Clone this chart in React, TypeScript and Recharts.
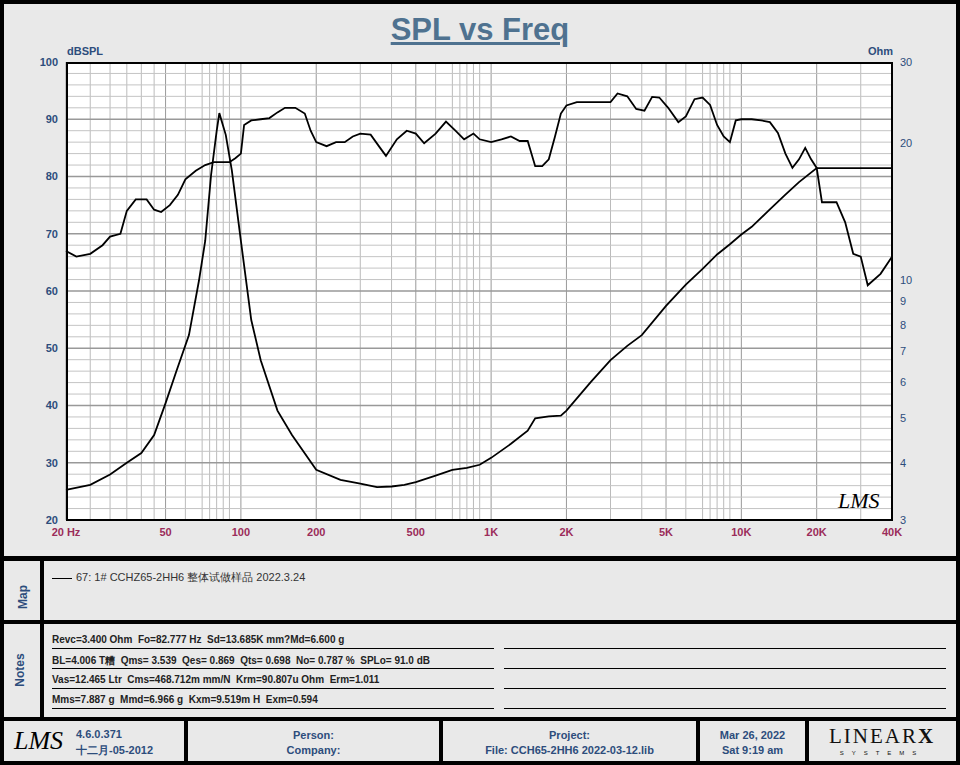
import { LineChart, Line, XAxis, YAxis, ReferenceLine } from 'recharts';

const splFreq = [20, 22, 25, 28, 30, 33, 35, 38, 42, 45, 48, 52, 56, 60, 66, 72, 78, 85, 90, 95, 100, 103, 110, 120, 130, 140, 150, 165, 180, 190, 200, 220, 240, 260, 280, 300, 330, 360, 380, 420, 460, 500, 540, 600, 660, 720, 780, 850, 900, 1000, 1100, 1200, 1300, 1400, 1500, 1600, 1700, 1800, 1900, 2000, 2200, 2500, 3000, 3200, 3500, 3800, 4100, 4400, 4700, 5100, 5600, 6000, 6500, 7000, 7500, 8000, 8500, 9000, 9500, 10000, 11000, 12000, 13000, 14000, 15000, 16000, 17000, 18000, 19000, 20000, 21000, 22000, 24000, 26000, 28000, 30000, 32000, 36000, 40000];
const splDb = [67, 66, 66.5, 68, 69.5, 70, 74, 76, 76, 74.2, 73.8, 75, 76.8, 79.5, 81, 82, 82.5, 82.5, 82.5, 83.2, 84, 89, 89.8, 90, 90.2, 91.2, 92, 92, 91, 88, 86, 85.3, 86, 86, 87, 87.5, 87.3, 85, 83.6, 86.5, 88, 87.5, 85.8, 87.5, 89.6, 88, 86.5, 87.5, 86.5, 86, 86.5, 87, 86.2, 86.2, 81.8, 81.8, 83, 87, 91, 92.4, 93, 93, 93, 94.5, 94, 91.8, 91.5, 93.9, 93.8, 92, 89.5, 90.5, 93.5, 93.8, 92.5, 89, 87, 86, 89.8, 90, 90, 89.8, 89.5, 87.6, 84, 81.5, 83, 85, 83, 81.5, 75.5, 75.5, 75.5, 72, 66.5, 66, 61, 63, 66];

const zFreq = [20, 25, 30, 35, 40, 45, 50, 55, 62, 68, 72, 76, 80, 82, 87, 92, 100, 110, 120, 140, 160, 200, 250, 300, 350, 400, 450, 500, 600, 700, 800, 900, 1000, 1200, 1400, 1500, 1700, 1900, 2000, 2500, 3000, 3500, 4000, 5000, 6000, 7000, 8000, 9000, 10000, 11000, 13000, 15000, 17000, 20000, 40000];
const zOhm = [3.49, 3.58, 3.77, 4.0, 4.2, 4.6, 5.4, 6.3, 7.6, 10.0, 12.2, 17.0, 21.2, 23.2, 20.8, 17.4, 12.2, 8.2, 6.7, 5.2, 4.6, 3.86, 3.67, 3.6, 3.54, 3.55, 3.58, 3.63, 3.75, 3.86, 3.9, 3.96, 4.1, 4.4, 4.7, 5.0, 5.05, 5.07, 5.2, 6.0, 6.7, 7.2, 7.6, 8.8, 9.8, 10.6, 11.4, 12.0, 12.6, 13.1, 14.3, 15.4, 16.4, 17.6, 17.6];

const xTicks = [20, 50, 100, 200, 500, 1000, 2000, 5000, 10000, 20000, 40000];
const xLabels = ['20 Hz', '50', '100', '200', '500', '1K', '2K', '5K', '10K', '20K', '40K'];
const dbTicks = [20, 30, 40, 50, 60, 70, 80, 90, 100];
const ohmTicks = [3, 4, 5, 6, 7, 8, 9, 10, 20, 30];

const splData = splFreq.map((f, i) => ({ f, spl: splDb[i] }));
const zData = zFreq.map((f, i) => ({ f, z: zOhm[i] }));

const vGrid: number[] = [];
[10, 100, 1000, 10000].forEach((d) => {
  for (let k = 1; k <= 9; k++) {
    const v = d * k;
    if (v >= 20 && v <= 40000) vGrid.push(v);
  }
});
vGrid.push(15, 25, 35, 45, 75, 85, 750, 850, 7500, 8500);
const hGrid: number[] = [];
for (let v = 22; v < 100; v += 2) hGrid.push(v);

const blue = '#2d4d7c';
const red = '#9b2c5a';
const font = 'Arial, "Liberation Sans", sans-serif';

const fmtX = (v: number) => xLabels[xTicks.indexOf(v)] ?? '';

const cell: React.CSSProperties = { position: 'absolute', boxSizing: 'border-box' };

export default function App() {
  return (
    <div style={{ position: 'absolute', left: 0, top: 0, width: 960, height: 765, background: '#e9e9e9', fontFamily: font, overflow: 'hidden' }}>
      <div style={{ ...cell, left: 0, top: 0, width: 960, height: 765, border: '4px solid #000' }} />
      <div style={{ ...cell, left: 0, top: 12, width: 960, textAlign: 'center', fontSize: 31, fontWeight: 'bold', color: '#4f7290', textDecoration: 'underline' }}>SPL vs Freq</div>
      <div style={{ ...cell, left: 67, top: 45, fontSize: 11, fontWeight: 'bold', color: blue }}>dBSPL</div>
      <div style={{ ...cell, left: 868, top: 45, fontSize: 11, fontWeight: 'bold', color: blue }}>Ohm</div>
      <div style={{ ...cell, left: 66, top: 62, width: 826, height: 458, background: '#fff' }} />
      <div style={{ position: 'absolute', left: 0, top: 0 }}>
        <LineChart width={960} height={560} margin={{ top: 62, right: 28, left: 26, bottom: 10 }}>
          <XAxis type="number" dataKey="f" scale="log" domain={[20, 40000]} ticks={xTicks} tickFormatter={fmtX}
            allowDuplicatedCategory={false} tickLine={false} axisLine={false} height={30}
            tick={{ fill: red, fontSize: 11, fontWeight: 'bold', fontFamily: font }} interval={0} />
          <YAxis yAxisId="db" domain={[20, 100]} ticks={dbTicks} width={40} tickLine={false} axisLine={false}
            tick={{ fill: blue, fontSize: 11, fontWeight: 'bold', fontFamily: font }} interval={0} />
          <YAxis yAxisId="ohm" orientation="right" scale="log" domain={[3, 30]} ticks={ohmTicks} width={40}
            tickLine={false} axisLine={false} allowDataOverflow
            tick={{ fill: blue, fontSize: 11, fontFamily: font }} interval={0} />
          {vGrid.map((v) => (
            <ReferenceLine key={'v' + v} yAxisId="db" x={v} stroke={xTicks.includes(v) || [100, 1000, 10000].includes(v) ? '#999' : '#bbb'} strokeWidth={1} />
          ))}
          {hGrid.map((v) => (
            <ReferenceLine key={'h' + v} yAxisId="db" y={v} stroke={v % 10 === 0 ? '#999' : '#c4c4c4'} strokeWidth={v % 10 === 0 ? 1.5 : 1} />
          ))}
          <Line yAxisId="db" data={splData} dataKey="spl" stroke="#000" strokeWidth={1.8} dot={false} isAnimationActive={false} type="linear" />
          <Line yAxisId="ohm" data={zData} dataKey="z" stroke="#000" strokeWidth={1.8} dot={false} isAnimationActive={false} type="linear" />
        </LineChart>
      </div>
      <div style={{ ...cell, left: 66, top: 62, width: 827, height: 459, border: '2px solid #000' }} />
      <div style={{ ...cell, left: 838, top: 488, fontSize: 22, fontStyle: 'italic', fontFamily: 'serif' }}>LMS</div>

      {/* panels */}
      <div style={{ ...cell, left: 0, top: 556, width: 960, height: 5, background: '#000' }} />
      <div style={{ ...cell, left: 0, top: 620, width: 960, height: 4, background: '#000' }} />
      <div style={{ ...cell, left: 0, top: 717, width: 960, height: 4, background: '#000' }} />
      <div style={{ ...cell, left: 40, top: 556, width: 4, height: 165, background: '#000' }} />
      <div style={{ ...cell, left: 8, top: 590, width: 30, transform: 'rotate(-90deg)', fontSize: 12, fontWeight: 'bold', color: blue, textAlign: 'center' }}>Map</div>
      <div style={{ ...cell, left: 2, top: 663, width: 36, transform: 'rotate(-90deg)', fontSize: 12, fontWeight: 'bold', color: blue, textAlign: 'center' }}>Notes</div>
      <div style={{ ...cell, left: 52, top: 570, fontSize: 11, color: '#333', fontFamily: font }}>
        <span style={{ display: 'inline-block', width: 20, borderTop: '1.5px solid #000', verticalAlign: 'middle', marginRight: 4 }} />
        67: 1# CCHZ65-2HH6 整体试做样品 2022.3.24
      </div>
      {[
        'Revc=3.400 Ohm  Fo=82.777 Hz  Sd=13.685K mm?Md=6.600 g',
        'BL=4.006 T糟  Qms= 3.539  Qes= 0.869  Qts= 0.698  No= 0.787 %  SPLo= 91.0 dB',
        'Vas=12.465 Ltr  Cms=468.712m mm/N  Krm=90.807u Ohm  Erm=1.011',
        'Mms=7.887 g  Mmd=6.966 g  Kxm=9.519m H  Exm=0.594',
      ].map((t, i) => (
        <div key={t}>
          <div style={{ ...cell, left: 52, top: 634 + i * 20, width: 442, height: 15, borderBottom: '1px solid #000', fontSize: 10, fontWeight: 'bold', color: '#222', whiteSpace: 'pre' }}>{t}</div>
          <div style={{ ...cell, left: 504, top: 634 + i * 20, width: 442, height: 15, borderBottom: '1px solid #000' }} />
        </div>
      ))}

      {/* footer */}
      {[184, 439, 696, 805].map((x) => (
        <div key={x} style={{ ...cell, left: x, top: 720, width: 4, height: 45, background: '#000' }} />
      ))}
      <div style={{ ...cell, left: 14, top: 726, fontSize: 26, fontStyle: 'italic', fontFamily: 'serif' }}>LMS</div>
      <div style={{ ...cell, left: 76, top: 726, fontSize: 11, fontWeight: 'bold', color: blue, lineHeight: '16px' }}>4.6.0.371<br />十二月-05-2012</div>
      <div style={{ ...cell, left: 188, top: 728, width: 251, textAlign: 'center', fontSize: 11, fontWeight: 'bold', color: blue, lineHeight: '15px' }}>Person:<br />Company:</div>
      <div style={{ ...cell, left: 443, top: 728, width: 253, textAlign: 'center', fontSize: 11, fontWeight: 'bold', color: blue, lineHeight: '15px' }}>Project:<br />File: CCH65-2HH6 2022-03-12.lib</div>
      <div style={{ ...cell, left: 700, top: 728, width: 105, textAlign: 'center', fontSize: 11, fontWeight: 'bold', color: blue, lineHeight: '15px' }}>Mar 26, 2022<br />Sat  9:19 am</div>
      <div style={{ ...cell, left: 812, top: 724, width: 140, textAlign: 'center', fontSize: 21, fontFamily: 'serif', letterSpacing: 2, color: '#111' }}>LINEAR<b>X</b></div>
      <div style={{ ...cell, left: 812, top: 750, width: 140, textAlign: 'center', fontSize: 6, letterSpacing: 8, color: '#111' }}>SYSTEMS</div>
    </div>
  );
}
